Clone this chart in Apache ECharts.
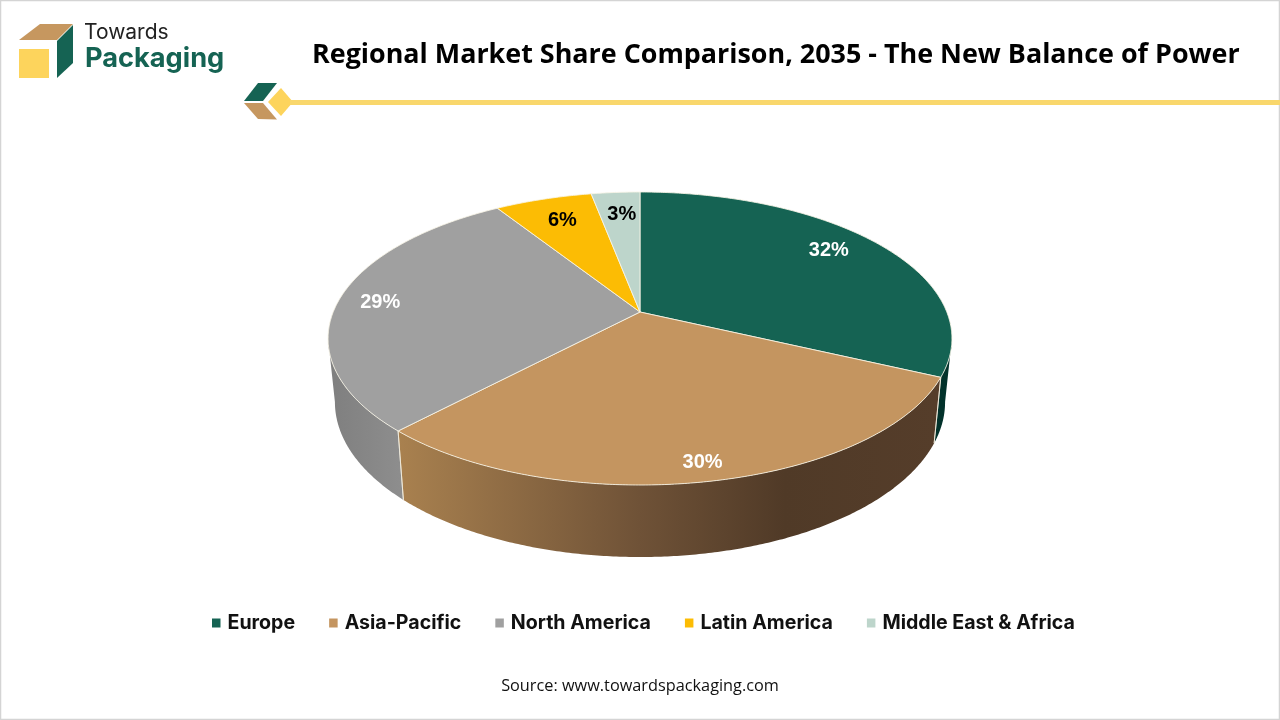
<!DOCTYPE html>
<html>
<head>
<meta charset="utf-8">
<style>html,body{margin:0;padding:0;background:#fff}#c{width:1280px;height:720px}</style>
<script src="https://cdn.jsdelivr.net/npm/echarts@6/dist/echarts.min.js"></script>
</head>
<body>
<div id="c"></div>
<script>
var regions = ['Europe', 'Asia-Pacific', 'North America', 'Latin America', 'Middle East & Africa'];
var shares = [32, 30, 29, 6, 3];
var shareLabels = ['32%', '30%', '29%', '6%', '3%'];

var topColors = ['#156353', '#c49560', '#a0a0a0', '#fcbc04', '#bdd5cb'];
var labelColors = ['#fff', '#fff', '#fff', '#000', '#000'];
var labelRadius = [0.78, 0.9, 0.863, 0.8, 0.8];
var labelShiftX = [1, 1, 0, 2, 2];
var labelShiftY = [-6, 1.5, 1.5, 1, 1];

// perspective projection of the pie's disc onto the screen
var P = {cx: 640, cy: 312, a: 306.8, b: 141.7, k: 0.1809, depth: 62, rimX: 0.978, rimY: 1.058};
function project(deg, r) {
  var t = deg * Math.PI / 180, u = r * Math.sin(t), v = r * Math.cos(t), w = 1 + P.k * v;
  return [P.a * u / w, -P.b * v / w];
}
function topPoint(deg, r) { var d = project(deg, r); return [P.cx + d[0], P.cy + d[1]]; }
function rimPoint(deg) { var d = project(deg, 1); return [P.cx + P.rimX * d[0], P.cy + P.depth + P.rimY * d[1]]; }
function arc(a0, a1, fn) {
  var pts = [], n = Math.max(2, Math.ceil(Math.abs(a1 - a0) * 2));
  for (var i = 0; i <= n; i++) pts.push(fn(a0 + (a1 - a0) * i / n));
  return pts;
}
var total = shares.reduce(function (s, v) { return s + v; }, 0);
function startAngle(i) { var s = 0; for (var j = 0; j < i; j++) s += shares[j]; return s / total * 360; }
// the wall is visible only between the two points where the disc's outline is widest
var WALL_FROM = Math.acos(-P.k) * 180 / Math.PI, WALL_TO = 360 - WALL_FROM;

function wallFill(i) {
  var G = echarts.graphic.LinearGradient;
  if (i === 1) return new G(398, 0, 935, 0, [
    {offset: 0, color: '#a9814f'}, {offset: 0.45, color: '#6f5237'},
    {offset: 0.72, color: '#503a27'}, {offset: 1, color: '#553d2a'}], true);
  if (i === 2) return new G(330, 0, 404, 0, [
    {offset: 0, color: '#7f7f7f'}, {offset: 1, color: '#8e8e8e'}], true);
  return '#02322b';
}
function renderSlice(i) {
  return function (params, api) {
    var value = api.value(0);
    var a0 = startAngle(i), a1 = a0 + value / total * 360;
    var top = [[P.cx, P.cy]].concat(arc(a0, a1, function (d) { return topPoint(d, 1); }));
    var children = [];
    var w0 = Math.max(a0, WALL_FROM), w1 = Math.min(a1, WALL_TO);
    if (i === 0) { w0 = a1 - (a1 - WALL_FROM); }
    if (w1 > w0) {
      var wall = arc(w0, w1, function (d) { return topPoint(d, 1); })
        .concat(arc(w1, w0, rimPoint));
      children.push({type: 'polygon', z2: 1, silent: true, shape: {points: wall},
        style: {fill: wallFill(i), stroke: null}});
      [a0, a1].forEach(function (d) {
        if (d > WALL_FROM && d < WALL_TO) {
          var p = topPoint(d, 1), q = rimPoint(d);
          children.push({type: 'line', z2: 2, silent: true,
            shape: {x1: p[0], y1: p[1], x2: q[0], y2: q[1]},
            style: {stroke: 'rgba(240,235,220,0.8)', lineWidth: 1}});
        }
      });
    }
    children.push({type: 'polygon', z2: 5, silent: true, shape: {points: top},
      style: {fill: topColors[i], stroke: 'rgba(248,244,230,0.85)', lineWidth: 1, lineJoin: 'round'}});
    var mid = (a0 + a1) / 2, lp = topPoint(mid, labelRadius[i]);
    children.push({type: 'text', z2: 10, silent: true, x: lp[0] + labelShiftX[i], y: lp[1] + labelShiftY[i],
      style: {text: shareLabels[i], fill: labelColors[i], align: 'center', verticalAlign: 'middle',
        font: 'bold 20px "Liberation Sans", Arial, sans-serif'}});
    return {type: 'group', children: children};
  };
}

var series = regions.map(function (name, i) {
  return {
    type: 'custom', name: name, coordinateSystem: 'none', silent: true,
    itemStyle: {color: topColors[i]},
    data: [[shares[i]]], renderItem: renderSlice(i)
  };
});

var chart = echarts.init(document.getElementById('c'), null, {renderer: 'canvas'});
chart.setOption({
  animation: false,
  backgroundColor: '#fff',
  title: {
    text: 'Regional Market Share Comparison, 2035 - The New Balance of Power',
    left: 312, top: 42, padding: 0,
    textStyle: {fontFamily: '"Open Sans", sans-serif', fontWeight: 700, fontSize: 26.9, color: '#000'}
  },
  legend: {
    show: true, left: 212, top: 613, itemGap: 34, itemWidth: 8.5, itemHeight: 9, icon: 'rect',
    selectedMode: false, padding: 0,
    textStyle: {fontFamily: 'Inter, sans-serif', fontWeight: 700, fontSize: 19.6, color: '#111', padding: [0, 0, 0, 2]},
    data: regions
  },
  graphic: [
    {type: 'rect', silent: true, shape: {x: 0.5, y: 0.5, width: 1279, height: 719}, style: {fill: 'none', stroke: '#d4d4d4', lineWidth: 1.5}},
    {type: 'polygon', shape: {points: [[19, 40], [40, 24], [73, 24], [57, 40]]}, style: {fill: '#c6975f'}},
    {type: 'polygon', shape: {points: [[57, 41], [73, 25], [73, 63], [57, 78]]}, style: {fill: '#156353'}},
    {type: 'rect', shape: {x: 19, y: 49, width: 30, height: 29}, style: {fill: '#fdd45c'}},
    {type: 'text', x: 84, y: 22, style: {text: 'Towards', fill: '#222', font: '400 21px Inter, sans-serif'}},
    {type: 'text', x: 85, y: 45, style: {text: 'Packaging', fill: '#156353', font: '700 27.2px Inter, sans-serif'}},
    {type: 'polygon', shape: {points: [[244, 101], [258, 83], [277, 83], [263, 101]]}, style: {fill: '#156353'}},
    {type: 'polygon', shape: {points: [[244, 103], [263, 103], [277, 119.5], [258, 119]]}, style: {fill: '#c6975f'}},
    {type: 'polygon', shape: {points: [[268, 102], [281, 88], [293, 102], [281, 116]]}, style: {fill: '#fdd45c'}},
    {type: 'rect', shape: {x: 290, y: 100, width: 990, height: 5}, style: {fill: '#f9d76c'}},
    {type: 'text', x: 640, y: 686, style: {text: 'Source: www.towardspackaging.com', fill: '#111', align: 'center', verticalAlign: 'middle', font: '400 16.3px "Open Sans", sans-serif'}}
  ],
  series: series
});
</script>
</body>
</html>
